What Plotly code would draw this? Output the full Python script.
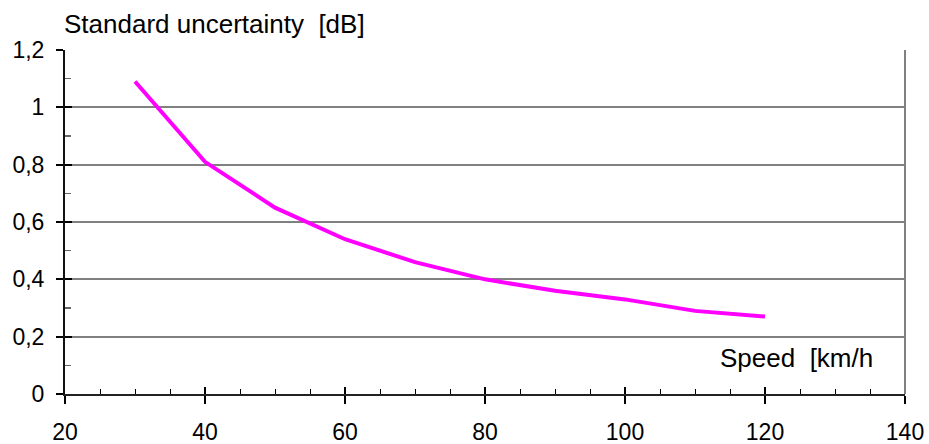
import plotly.graph_objects as go

speed = [30, 40, 50, 60, 70, 80, 90, 100, 110, 120]
uncertainty = [1.09, 0.81, 0.65, 0.54, 0.46, 0.40, 0.36, 0.33, 0.29, 0.27]

x_ticks = [20, 40, 60, 80, 100, 120, 140]
x_ticktext = ["20", "40", "60", "80", "100", "120", "140"]
y_ticks = [0, 0.2, 0.4, 0.6, 0.8, 1.0, 1.2]
y_ticktext = ["0", "0,2", "0,4", "0,6", "0,8", "1", "1,2"]

y_title = "Standard uncertainty\u00a0\u00a0[dB]"
x_title = "Speed\u00a0\u00a0[km/h"

FONT = "Liberation Sans, Arial, sans-serif"

fig = go.Figure()
fig.add_trace(go.Scatter(x=speed, y=uncertainty, mode="lines",
                         line=dict(color="#FF00FF", width=4),
                         showlegend=False, hoverinfo="skip"))
# invisible trace to carry overlay axes (inner half of crossing ticks)
fig.add_trace(go.Scatter(x=speed, y=uncertainty, mode="lines", xaxis="x2", yaxis="y2",
                         line=dict(color="rgba(0,0,0,0)", width=0),
                         showlegend=False, hoverinfo="skip"))

fig.update_layout(
    width=929, height=444,
    margin=dict(l=65, r=24, t=50, b=50, autoexpand=False),
    paper_bgcolor="white", plot_bgcolor="white",
    font=dict(family=FONT, size=23, color="black"),
    xaxis=dict(range=[20, 140], tickvals=x_ticks, ticktext=x_ticktext, automargin=False,
               showgrid=False, zeroline=False,
               showline=True, linecolor="#222222", linewidth=2,
               ticks="outside", ticklen=8, tickwidth=1.5, tickcolor="black",
               minor=dict(tickvals=[25, 30, 35, 45, 50, 55, 65, 70, 75, 85, 90, 95, 105, 110, 115, 125, 130, 135],
                          ticks="inside", ticklen=5, tickwidth=1, tickcolor="black"),
               tickfont=dict(size=23), ticklabelstandoff=8),
    yaxis=dict(range=[0, 1.2], tickvals=y_ticks, ticktext=y_ticktext, automargin=False,
               showgrid=True, gridcolor="#808080", gridwidth=2, zeroline=False,
               showline=True, linecolor="#111111", linewidth=2,
               ticks="outside", ticklen=7, tickwidth=2, tickcolor="black",
               minor=dict(tickvals=[0.1, 0.3, 0.5, 0.7, 0.9, 1.1],
                          ticks="inside", ticklen=6, tickwidth=1.5, tickcolor="#666666"),
               tickfont=dict(size=23), ticklabelstandoff=7),
    xaxis2=dict(range=[20, 140], overlaying="x", anchor="y", side="bottom", automargin=False,
                tickvals=x_ticks, showticklabels=False, showgrid=False, zeroline=False,
                showline=False, ticks="inside", ticklen=7, tickwidth=1.5, tickcolor="black"),
    yaxis2=dict(range=[0, 1.2], overlaying="y", anchor="x", side="left", automargin=False,
                tickvals=y_ticks, showticklabels=False, showgrid=False, zeroline=False,
                showline=False, ticks="inside", ticklen=7, tickwidth=2, tickcolor="black"),
    shapes=[dict(type="line", xref="paper", yref="paper", x0=1, x1=1, y0=0, y1=1,
                 line=dict(color="#808080", width=2))],
    annotations=[
        dict(text=y_title, xref="paper", yref="paper", x=-0.004, y=1.0, yshift=26,
             xanchor="left", yanchor="middle", showarrow=False,
             font=dict(size=26, family=FONT, color="black")),
        dict(text=x_title, xref="paper", yref="paper", x=0.777, y=0.106,
             xanchor="left", yanchor="middle", showarrow=False,
             font=dict(size=26, family=FONT, color="black")),
    ],
)

# remove the default 8px page margin so the 929x444 figure fills the window exactly
fig.write_html("out.html",
               config={"displayModeBar": False, "staticPlot": True},
               post_script="document.body.style.margin='0';document.body.style.overflow='hidden';")
